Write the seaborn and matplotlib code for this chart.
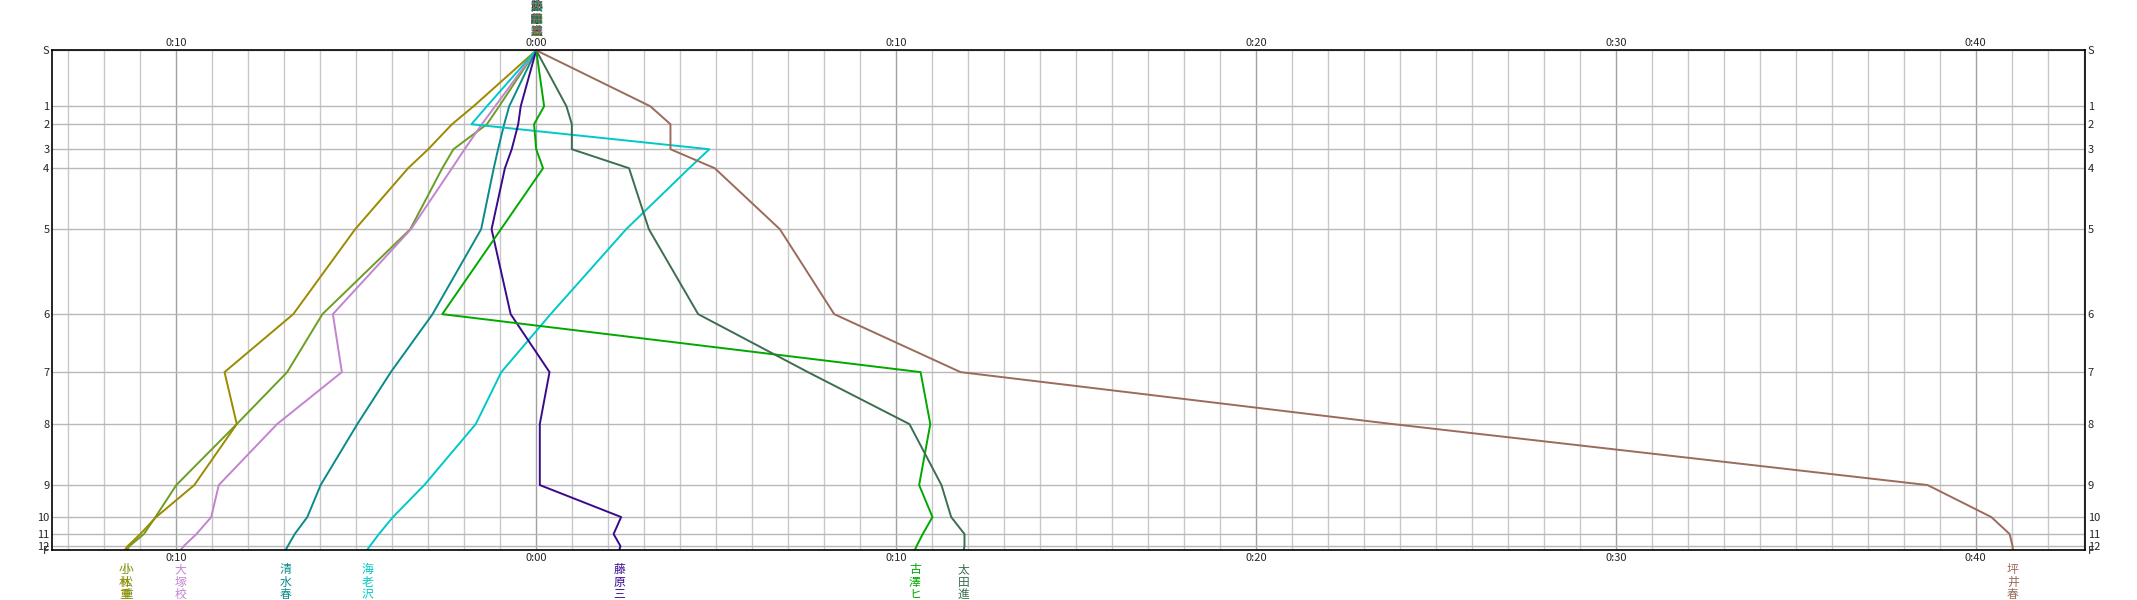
import matplotlib
matplotlib.use('Agg')
import matplotlib.pyplot as plt
import matplotlib.transforms as mtrans
import numpy as np
import pandas as pd
import seaborn as sns

# checkpoints (S, relay points 1-12, F) and their cumulative distance
checkpoints = ["S", "1", "2", "3", "4", "5", "6", "7", "8", "9", "10", "11", "12", "F"]
dist_km = [0, 5.6, 7.4, 9.9, 11.8, 17.9, 26.4, 32.2, 37.4, 43.5, 46.7, 48.4, 49.6, 50.0]

# gap to the reference runner in minutes (negative = ahead)
runners = ["小松重", "小林重", "大塚校", "清水春", "海老沢", "藤原三", "古澤ヒ", "太田進", "坪井春"]
gap_komatsu = [0, -1.03, -1.37, -2.30, -2.61, -3.50, -5.94, -6.92, -8.32, -10.0, -10.58, -10.9, -11.3, -11.37]
gap_kobayashi = [0, -1.74, -2.34, -3.0, -3.56, -5.03, -6.75, -8.66, -8.32, -9.50, -10.56, -11.0, -11.35, -11.43]
gap_otsuka = [0, -1.14, -1.51, -1.99, -2.34, -3.48, -5.65, -5.40, -7.2, -8.82, -9.03, -9.44, -9.79, -9.88]
gap_shimizu = [0, -0.75, -0.89, -1.06, -1.18, -1.53, -2.88, -4.04, -4.97, -5.99, -6.36, -6.71, -6.9, -6.96]
gap_ebisawa = [0, -1.37, -1.8, 4.81, 4.25, 2.5, 0.4, -0.97, -1.68, -3.11, -3.98, -4.37, -4.62, -4.70]
gap_fujiwara = [0, -0.43, -0.5, -0.68, -0.87, -1.24, -0.71, 0.37, 0.10, 0.10, 2.36, 2.15, 2.34, 2.31]
gap_furusawa = [0, 0.22, -0.06, 0.0, 0.19, -0.98, -2.61, 10.68, 10.95, 10.64, 11.01, 10.74, 10.57, 10.52]
gap_ota = [0, 0.84, 0.99, 0.99, 2.58, 3.13, 4.5, 7.55, 10.37, 11.26, 11.53, 11.9, 11.9, 11.88]
gap_tsuboi = [0, 3.17, 3.73, 3.73, 4.96, 6.77, 8.28, 11.79, 23.8, 38.66, 40.43, 40.94, 41.02, 41.03]

colors = ["#6b9e23", "#9c8a00", "#c384cf", "#0a8a8a", "#00c8c8",
          "#3a0a8c", "#00a800", "#3c6e50", "#9b6b5b"]

gaps = [gap_komatsu, gap_kobayashi, gap_otsuka, gap_shimizu, gap_ebisawa,
        gap_fujiwara, gap_furusawa, gap_ota, gap_tsuboi]

df = pd.concat([pd.DataFrame({'runner': r, 'dist': dist_km, 'gap': g})
                for r, g in zip(runners, gaps)], ignore_index=True)

sns.set_style('white')
plt.rcParams['font.family'] = ['Noto Sans CJK JP', 'DejaVu Sans']

fig = plt.figure(figsize=(21.37, 6), dpi=100)
ax = fig.add_axes([0.0244, 0.0833, 0.9512, 0.8329])

sns.lineplot(data=df, x='gap', y='dist', hue='runner', palette=dict(zip(runners, colors)),
             sort=False, estimator=None, legend=False, linewidth=1.4, ax=ax)

ax.set_xlim(-13.45, 43.03)
ax.set_ylim(dist_km[-1], 0)

major = [-10, 0, 10, 20, 30, 40]
ax.set_xticks(major)
ax.set_xticklabels([f"{abs(v) // 60}:{abs(v) % 60:02d}" for v in major])
ax.set_xticks(np.arange(-13, 44), minor=True)
ax.set_yticks(dist_km)
ax.set_yticklabels(checkpoints)

ax.grid(which='minor', axis='x', color='#c8c8c8', lw=1)
ax.grid(which='major', axis='x', color='#a0a0a0', lw=1)
ax.grid(which='major', axis='y', color='#b8b8b8', lw=1)
ax.set_axisbelow(True)
for s in ax.spines.values():
    s.set_color('black')
    s.set_linewidth(1.2)

ax.tick_params(which='both', length=0, labeltop=True, labelright=True, labelsize=8, pad=2)
ax.set_xlabel('')
ax.set_ylabel('')

# names at the start (all overlap) and at the finish
tr = mtrans.blended_transform_factory(ax.transData, ax.transAxes)
for r, g, c in zip(runners, gaps, colors):
    label = "\n".join(r)
    ax.text(0, 1.024, label, transform=tr, ha='center', va='bottom', color=c,
            fontsize=8.5, linespacing=0.95)
    ax.text(g[-1], -0.026, label, transform=tr, ha='center', va='top', color=c,
            fontsize=8.5, linespacing=0.95)

fig.savefig('out.png', dpi=100)
